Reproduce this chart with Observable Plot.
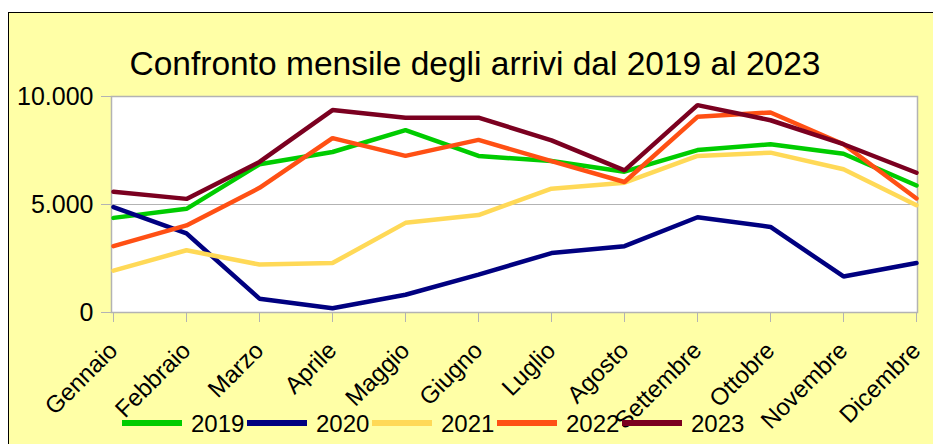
<!DOCTYPE html>
<html>
<head>
<meta charset="utf-8">
<script src="https://cdn.jsdelivr.net/npm/d3@7"></script>
<script src="https://cdn.jsdelivr.net/npm/@observablehq/plot@0.6"></script>
<style>
  html, body { margin: 0; padding: 0; background: white; }
  body { width: 933px; height: 444px; position: relative; overflow: hidden; font-family: "Liberation Sans", Arial, sans-serif; }
  #box { position: absolute; left: 8px; top: 12px; width: 925px; height: 432px; background: #ffffa6; border-left: 1px solid #000; border-top: 1px solid #000; }
  #plot { position: absolute; left: 0; top: 0; }
  #title { position: absolute; left: 0; width: 950px; top: 47px; text-align: center; font-size: 33.5px; line-height: 34px; color: #000; white-space: nowrap; }
  .lg { position: absolute; top: 412px; height: 24px; font-size: 24px; line-height: 24px; color: #000; }
  .sw { position: absolute; height: 6px; top: 420px; width: 60px; }
</style>
</head>
<body>
<div id="box"></div>
<div id="plot"></div>
<div id="title">Confronto mensile degli arrivi dal 2019 al 2023</div>
<div id="legend"></div>
<script>
const months = ["Gennaio","Febbraio","Marzo","Aprile","Maggio","Giugno","Luglio","Agosto","Settembre","Ottobre","Novembre","Dicembre"];
const years = ["2019","2020","2021","2022","2023"];
const colors = ["#00cc00","#000080","#ffd957","#ff5014","#7b0020"];
const yTicks = [0, 5000, 10000];

const v2019 = [4380, 4800, 6860, 7430, 8440, 7250, 7010, 6520, 7520, 7790, 7350, 5880];
const v2020 = [4880, 3660, 640, 200, 820, 1750, 2750, 3070, 4410, 3960, 1670, 2290];
const v2021 = [1940, 2880, 2220, 2290, 4150, 4510, 5730, 6010, 7250, 7400, 6630, 4970];
const v2022 = [3070, 4030, 5770, 8070, 7250, 7990, 7010, 6040, 9060, 9260, 7790, 5280];
const v2023 = [5590, 5260, 6970, 9370, 9020, 9020, 7970, 6580, 9600, 8900, 7790, 6470];

const series = [v2019, v2020, v2021, v2022, v2023];
const rows = [];
series.forEach((vals, i) => vals.forEach((v, j) => rows.push({year: years[i], month: months[j], value: v})));

const fmt = d => d3.format(",")(d).replace(/,/g, ".");

const chart = Plot.plot({
  width: 933,
  height: 444,
  marginLeft: 111,
  marginRight: 16,
  marginTop: 96,
  marginBottom: 132,
  style: {background: "transparent", fontFamily: "Liberation Sans, Arial, sans-serif", overflow: "visible"},
  x: {type: "point", domain: months, padding: 0},
  y: {domain: [0, 10000]},
  color: {domain: years, range: colors},
  marks: [
    Plot.frame({fill: "white"}),
    Plot.ruleY([5000], {stroke: "#b3b3b3", strokeWidth: 1}),
    Plot.frame({stroke: "#b3b3b3", strokeWidth: 1.5}),
    Plot.axisY({ticks: yTicks, tickSize: 10, tickPadding: 8, tickFormat: fmt, fontSize: 25, stroke: "#b3b3b3", fill: "#000", label: null}),
    Plot.axisX({tickSize: 10, tickFormat: () => "", stroke: "#b3b3b3", label: null}),
    Plot.text(months, {x: d => d, frameAnchor: "bottom", dy: 34, dx: 0, rotate: -45, textAnchor: "end", lineAnchor: "middle", fontSize: 24, fill: "#000"}),
    Plot.lineY(rows, {x: "month", y: "value", z: "year", stroke: "year", strokeWidth: 4.5, strokeLinejoin: "miter"})
  ]
});
document.getElementById("plot").appendChild(chart);

const legend = document.getElementById("legend");
years.forEach((y, i) => {
  const sw = document.createElement("div");
  sw.className = "sw";
  sw.style.left = (122 + 125 * i) + "px";
  sw.style.background = colors[i];
  legend.appendChild(sw);
  const t = document.createElement("div");
  t.className = "lg";
  t.style.left = (191 + 125 * i) + "px";
  t.textContent = y;
  legend.appendChild(t);
});
</script>
</body>
</html>
